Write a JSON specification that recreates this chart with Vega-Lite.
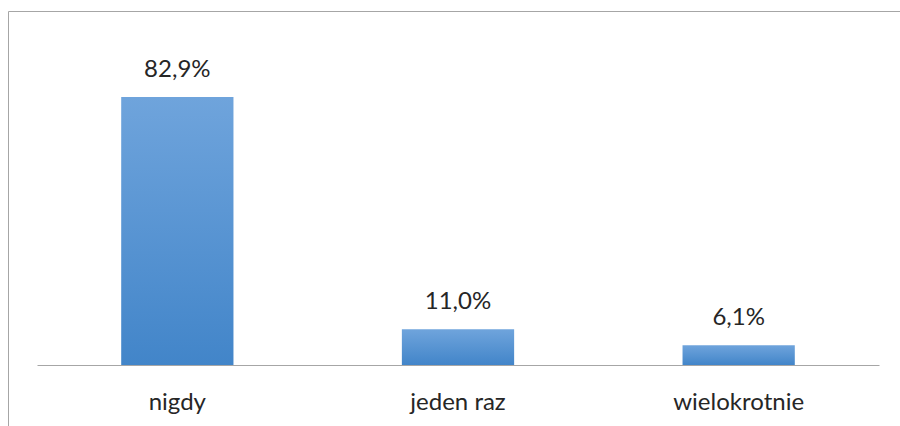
{
  "$schema": "https://vega.github.io/schema/vega-lite/v6.json",
  "width": 900,
  "height": 426,
  "autosize": {"type": "fit", "contains": "padding"},
  "padding": {"left": 8, "top": 11, "right": 0, "bottom": 0},
  "background": "white",
  "config": {
    "view": {"stroke": null},
    "font": "Lato"
  },
  "data": {
    "values": [
      {"kategoria": "nigdy", "procent": 82.9, "etykieta": "82,9%"},
      {"kategoria": "jeden raz", "procent": 11.0, "etykieta": "11,0%"},
      {"kategoria": "wielokrotnie", "procent": 6.1, "etykieta": "6,1%"}
    ]
  },
  "resolve": {"scale": {"x": "independent"}, "axis": {"x": "independent"}},
  "layer": [
    {
      "encoding": {
        "x": {
          "field": "kategoria",
          "type": "nominal",
          "sort": null,
          "scale": {"range": [29, 871], "paddingInner": 0.6, "paddingOuter": 0.3},
          "axis": {
            "title": null,
            "orient": "bottom",
            "offset": -61,
            "domainColor": "#a6a6a6",
            "domainWidth": 1,
            "ticks": false,
            "tickSize": 0,
            "labelAngle": 0,
            "labelBaseline": "alphabetic",
            "labelPadding": 44,
            "labelFontSize": 24,
            "labelColor": "#262626",
            "labelFont": "Lato"
          }
        }
      },
      "layer": [
        {
          "mark": {
            "type": "bar",
            "color": {
              "gradient": "linear",
              "x1": 0, "y1": 0, "x2": 0, "y2": 1,
              "stops": [
                {"offset": 0, "color": "#6fa4dc"},
                {"offset": 1, "color": "#4285c9"}
              ]
            }
          },
          "encoding": {
            "y": {
              "field": "procent",
              "type": "quantitative",
              "scale": {"domain": [-18.9, 109.5], "nice": false, "zero": false},
              "axis": {
                "orient": "left",
                "title": null,
                "labels": false,
                "ticks": false,
                "tickSize": 0,
                "grid": false,
                "domain": true,
                "domainColor": "#a6a6a6",
                "domainWidth": 1
              }
            }
          }
        },
        {
          "mark": {
            "type": "text",
            "baseline": "alphabetic",
            "dy": -20,
            "fontSize": 24,
            "color": "#262626",
            "font": "Lato"
          },
          "encoding": {
            "y": {"field": "procent", "type": "quantitative"},
            "text": {"field": "etykieta"}
          }
        }
      ]
    },
    {
      "mark": {"type": "tick", "opacity": 0},
      "encoding": {
        "x": {
          "field": "kategoria",
          "type": "nominal",
          "sort": null,
          "axis": {
            "title": null,
            "orient": "top",
            "labels": false,
            "ticks": false,
            "tickSize": 0,
            "grid": false,
            "domain": true,
            "domainColor": "#a6a6a6",
            "domainWidth": 1
          }
        },
        "y": {"field": "procent", "type": "quantitative"}
      }
    }
  ]
}
